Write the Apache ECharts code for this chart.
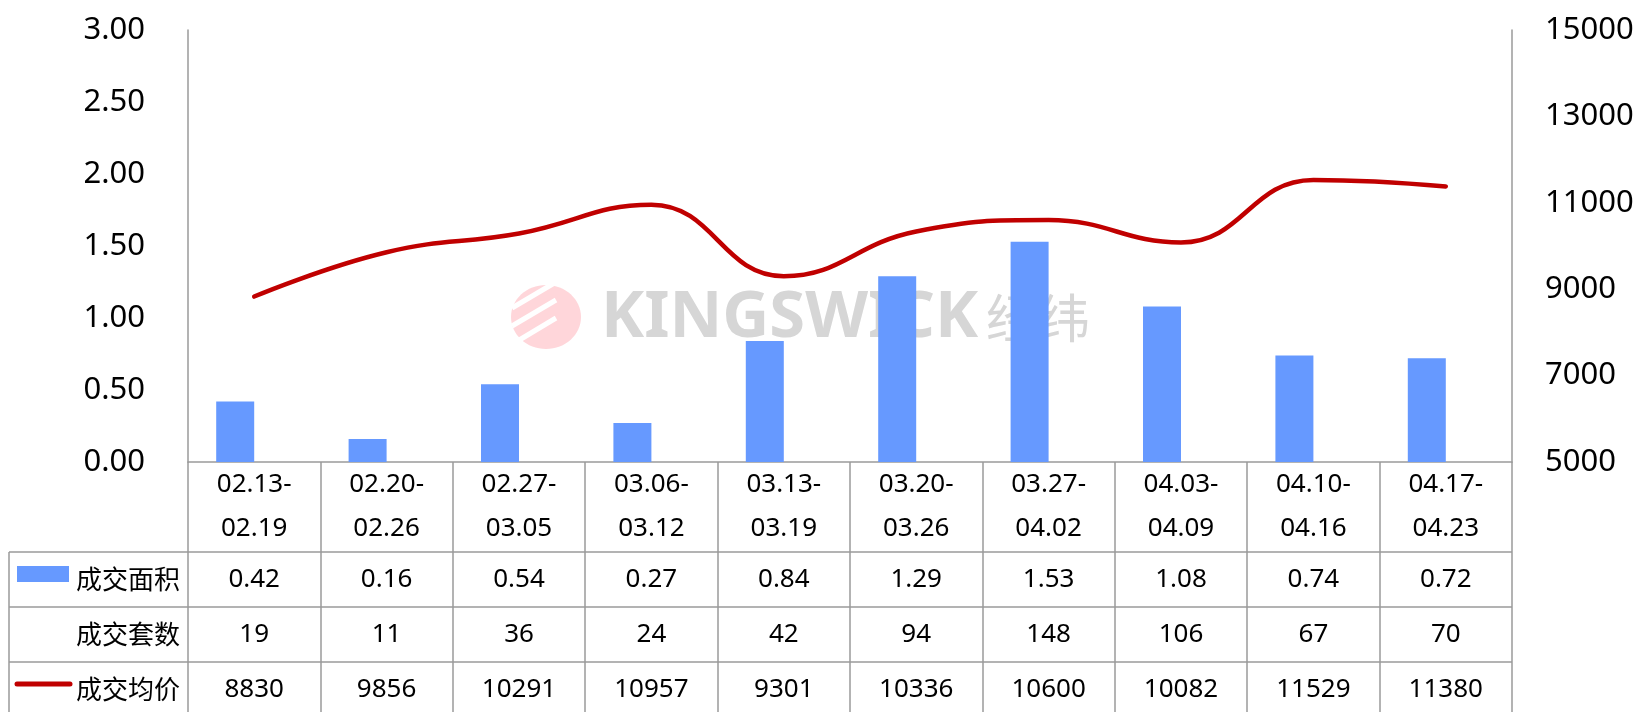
<!DOCTYPE html>
<html lang="zh-CN">
<head>
  <meta charset="UTF-8">
  <title>成交走势</title>
  <script src="https://cdn.jsdelivr.net/npm/echarts@6/dist/echarts.min.js"></script>
  <style>
    html, body { margin: 0; padding: 0; background: #fff; }
    #chart { width: 1642px; height: 712px; }
  </style>
</head>
<body>
  <div id="chart"></div>
  <script>
    // 周期
    const weeks = ['02.13-\n02.19', '02.20-\n02.26', '02.27-\n03.05', '03.06-\n03.12', '03.13-\n03.19',
                   '03.20-\n03.26', '03.27-\n04.02', '04.03-\n04.09', '04.10-\n04.16', '04.17-\n04.23'];
    // 成交面积（万㎡）
    const area = [0.42, 0.16, 0.54, 0.27, 0.84, 1.29, 1.53, 1.08, 0.74, 0.72];
    // 成交套数
    const units = [19, 11, 36, 24, 42, 94, 148, 106, 67, 70];
    // 成交均价
    const price = [8830, 9856, 10291, 10957, 9301, 10336, 10600, 10082, 11529, 11380];
    const rowNames = ['成交面积', '成交套数', '成交均价'];

    const font = '"Noto Sans", "Noto Sans CJK SC", sans-serif';
    const gridColor = '#9a9a9a';
    const barColor = '#6699ff';
    const lineColor = '#c00000';

    // 表格行（布局用）
    const rowTop = 552, rowH = 55, tableLeft = 9, tableRight = 1512, axisY = 462;

    // 表格里的数值行用额外的类目轴来放
    function rowAxis(list, idx) {
      return {
        type: 'category',
        gridIndex: 0,
        position: 'bottom',
        data: list,
        axisLine: { show: false },
        axisTick: { show: false },
        axisLabel: {
          margin: rowTop + rowH * idx + rowH / 2 - axisY,
          verticalAlign: 'middle',
          fontSize: 26, color: '#000', fontFamily: font
        }
      };
    }

    const graphics = [];
    // 水印（logo + 文字）
    graphics.push({
      type: 'ellipse', z: 0, silent: true,
      shape: { cx: 546, cy: 317, rx: 35, ry: 32 },
      style: { fill: '#ffd6da' }
    });
    [[512, 308, 556, 282], [512, 326, 556, 300], [516, 342, 556, 318]].forEach(p => {
      graphics.push({
        type: 'line', z: 0, silent: true,
        shape: { x1: p[0], y1: p[1], x2: p[2], y2: p[3] },
        style: { stroke: '#fff', lineWidth: 5 }
      });
    });
    graphics.push({
      type: 'text', z: 0, silent: true,
      style: {
        x: 601, y: 318, text: 'KINGSWICK', verticalAlign: 'middle',
        fill: '#d6d6d6', font: 'bold 65px "Noto Sans", sans-serif'
      }
    });
    graphics.push({
      type: 'text', z: 0, silent: true,
      style: {
        x: 986, y: 318, text: '经纬', verticalAlign: 'middle',
        fill: '#d6d6d6', font: '52px "Noto Sans CJK SC", sans-serif'
      }
    });
    // 表格横线和行名
    for (let i = 0; i < 3; i++) {
      graphics.push({
        type: 'line', z: 10,
        shape: { x1: tableLeft, y1: rowTop + rowH * i, x2: tableRight, y2: rowTop + rowH * i },
        style: { stroke: gridColor, lineWidth: 1.5 }
      });
      graphics.push({
        type: 'text', z: 10,
        style: {
          x: 180, y: rowTop + rowH * i + rowH / 2, text: rowNames[i],
          align: 'right', verticalAlign: 'middle',
          fill: '#000', font: '26px "Noto Sans CJK SC", sans-serif'
        }
      });
    }
    graphics.push({
      type: 'line', z: 10,
      shape: { x1: tableLeft, y1: rowTop, x2: tableLeft, y2: 720 },
      style: { stroke: gridColor, lineWidth: 1.5 }
    });
    // 图例标记
    graphics.push({
      type: 'rect', z: 10,
      shape: { x: 17, y: 566, width: 52, height: 16 },
      style: { fill: barColor }
    });
    graphics.push({
      type: 'line', z: 10,
      shape: { x1: 17, y1: 684, x2: 70, y2: 684 },
      style: { stroke: lineColor, lineWidth: 5, lineCap: 'round' }
    });

    const chart = echarts.init(document.getElementById('chart'));
    chart.setOption({
      animation: false,
      textStyle: { fontFamily: font },
      grid: { left: 188, right: 130, top: 30, bottom: 712 - axisY, outerBoundsMode: 'none' },
      xAxis: [
        {
          type: 'category',
          data: weeks,
          axisLine: { lineStyle: { color: gridColor, width: 1.5 } },
          axisTick: { show: true, inside: false, length: 260, lineStyle: { color: gridColor, width: 1.5 } },
          axisLabel: {
            margin: 45, verticalAlign: 'middle', lineHeight: 44,
            fontSize: 26, color: '#000', fontFamily: font
          }
        },
        rowAxis(area.map(v => v.toFixed(2)), 0),
        rowAxis(units.map(String), 1),
        rowAxis(price.map(String), 2)
      ],
      yAxis: [
        {
          type: 'value', min: 0, max: 3, interval: 0.5,
          axisLine: { show: true, lineStyle: { color: gridColor, width: 1.5 } },
          axisTick: { show: false },
          splitLine: { show: false },
          axisLabel: { margin: 43, fontSize: 31, color: '#000', formatter: v => v.toFixed(2) }
        },
        {
          type: 'value', min: 5000, max: 15000, interval: 2000,
          axisLine: { show: true, lineStyle: { color: gridColor, width: 1.5 } },
          axisTick: { show: false },
          splitLine: { show: false },
          axisLabel: { margin: 33, fontSize: 31, color: '#000', formatter: v => String(v) }
        },
        {
          type: 'value', show: false, min: 0, max: 500,
          splitLine: { show: false }
        }
      ],
      graphic: graphics,
      series: [
        {
          name: '成交面积', type: 'bar', yAxisIndex: 0,
          data: area, barWidth: 38, barGap: '0%',
          itemStyle: { color: barColor }, z: 2
        },
        {
          // 无填充的占位柱（成交套数）
          name: '成交套数', type: 'bar', yAxisIndex: 2,
          data: units, barWidth: 38,
          itemStyle: { color: 'rgba(0,0,0,0)' }, silent: true
        },
        {
          name: '成交均价', type: 'line', yAxisIndex: 1,
          data: price, smooth: 0.45, symbol: 'none',
          lineStyle: { color: lineColor, width: 4.5, cap: 'round' }, z: 3
        }
      ]
    });
  </script>
</body>
</html>
